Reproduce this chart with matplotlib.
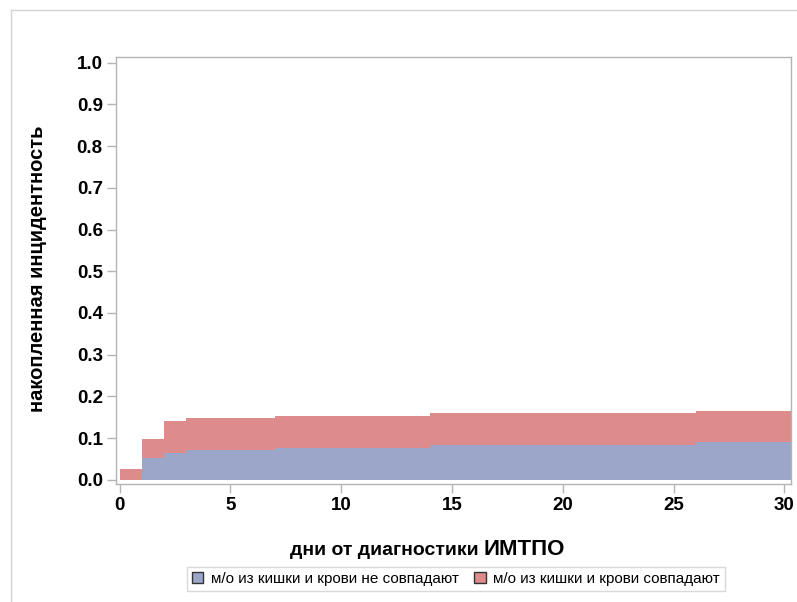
import numpy as np
import matplotlib.pyplot as plt
from matplotlib.lines import Line2D
from matplotlib.patches import Patch

plt.rcParams['font.family'] = ['Liberation Sans', 'DejaVu Sans']

# step times (days) and cumulative incidence values
times = [0, 1, 2, 3, 7, 14, 26, 30.3]
# blue: organisms from gut and blood do not match
cum_no_match = [0.0, 0.052, 0.065, 0.071, 0.077, 0.084, 0.090, 0.090]
# red top: total (stacked)
cum_total = [0.026, 0.097, 0.141, 0.148, 0.154, 0.160, 0.166, 0.166]

label_no = 'м/о из кишки и крови не совпадают'
label_yes = 'м/о из кишки и крови совпадают'

xticks = [0, 5, 10, 15, 20, 25, 30]
yticks = np.round(np.arange(0, 1.01, 0.1), 1)

blue = '#9ba6c9'
red = '#de8b8b'
frame = '#b4b4b4'

W, H = 797, 602
fig = plt.figure(figsize=(W / 100, H / 100), dpi=100)
ax = fig.add_axes([116 / W, 1 - 484 / H, 675 / W, 427 / H])

ax.fill_between(times, cum_no_match, cum_total, step='post', color=red, lw=0)
ax.fill_between(times, 0, cum_no_match, step='post', color=blue, lw=0)

ax.set_xlim(-0.16, 30.3)
ax.set_ylim(-0.01, 1.0137)
ax.set_xticks(xticks)
ax.set_yticks(yticks)
ax.set_yticklabels([f'{v:.1f}' for v in yticks])
ax.tick_params(axis='both', length=6.5, width=1, color=frame, labelsize=13.5, pad=3)
for lab in ax.get_xticklabels() + ax.get_yticklabels():
    lab.set_fontweight('bold')
for s in ax.spines.values():
    s.set_color(frame)
    s.set_linewidth(1)

fig.text(38 / W, 1 - 269 / H, 'накопленная инцидентность', rotation=90,
         ha='center', va='center', fontsize=14.5, fontweight='bold')
fig.text(479 / W, 1 - 555 / H, 'дни от диагностики',
         ha='right', va='baseline', fontsize=14, fontweight='bold')
fig.text(483 / W, 1 - 555 / H, 'ИМТПО',
         ha='left', va='baseline', fontsize=16, fontweight='bold')

handles = [Patch(facecolor=blue, edgecolor='#333333', lw=1, label=label_no),
           Patch(facecolor=red, edgecolor='#333333', lw=1, label=label_yes)]
fig.legend(handles=handles, loc='center', bbox_to_anchor=(456 / W, 1 - 579 / H),
           ncol=2, fontsize=11, frameon=True, fancybox=False, edgecolor='#d0d0d0',
           handlelength=0.75, handleheight=0.75, handletextpad=0.5, columnspacing=1.0,
           borderpad=0.3)

# outer graph border
fig.add_artist(Line2D([11 / W, 11 / W], [0, 1 - 10 / H], color='#d4d4d4', lw=1))
fig.add_artist(Line2D([11 / W, 1], [1 - 10 / H, 1 - 10 / H], color='#d4d4d4', lw=1))

fig.savefig('out.png', dpi=100)
